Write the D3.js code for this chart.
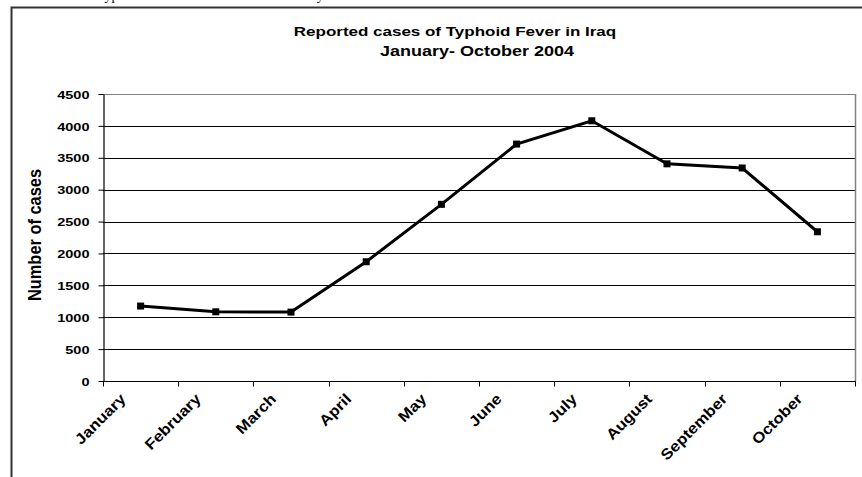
<!DOCTYPE html>
<html>
<head>
<meta charset="utf-8">
<script src="https://cdn.jsdelivr.net/npm/d3@7"></script>
<style>
  html, body { margin: 0; padding: 0; background: #fff; }
  svg { display: block; }
  text { font-family: "Liberation Sans", Arial, sans-serif; font-weight: bold; fill: #000; }
</style>
</head>
<body>
<svg id="chart" width="862" height="477"></svg>
<script>
// Monthly reported typhoid fever cases, Iraq 2004
const months = ["January", "February", "March", "April", "May", "June",
                "July", "August", "September", "October"];
const cases = [1175, 1085, 1080, 1870, 2770, 3715, 4080, 3405, 3340, 2340];
const yTicks = [0, 500, 1000, 1500, 2000, 2500, 3000, 3500, 4000, 4500];
const titleLines = ["Reported cases of Typhoid Fever in Iraq", "January- October 2004"];
const yTitle = "Number of cases";

const W = 862, H = 477;
const plot = { left: 103, right: 855, top: 94, bottom: 381 };
const SX = 1.25; // horizontal stretch of the chart lettering

const svg = d3.select("#chart");

// page caption above the chart frame (only its lowest strokes show)
svg.append("text")
  .attr("x", 97).attr("y", 0)
  .style("font-family", "'Liberation Serif', 'Times New Roman', serif")
  .style("font-weight", "normal")
  .style("font-size", "14px")
  .text("Typhoid Fever Cases Recorded Monthly");

// chart frame
svg.append("path")
  .attr("d", `M11.5,${H} V7.5 H${W}`)
  .attr("fill", "none").attr("stroke", "#333").attr("stroke-width", 2);

const x = d3.scaleBand().domain(months).range([plot.left, plot.right]).padding(0);
const y = d3.scaleLinear().domain([0, 4500]).range([plot.bottom, plot.top]);

// horizontal gridlines
svg.append("g")
  .selectAll("line")
  .data(yTicks.filter(v => v > 0))
  .join("line")
  .attr("x1", plot.left).attr("x2", plot.right)
  .attr("y1", d => Math.round(y(d)) + 0.5).attr("y2", d => Math.round(y(d)) + 0.5)
  .attr("stroke", d => d === 4500 ? "#808080" : "#000")
  .attr("stroke-width", 1);

// right edge of the plot area
svg.append("line")
  .attr("x1", plot.right + 0.5).attr("x2", plot.right + 0.5)
  .attr("y1", y(4500)).attr("y2", plot.bottom)
  .attr("stroke", "#808080").attr("stroke-width", 1.5);

// y axis
const yAxis = svg.append("g")
  .attr("transform", `translate(${plot.left + 0.5},0)`)
  .call(d3.axisLeft(y).tickValues(yTicks).tickSize(5).tickSizeOuter(0).tickFormat(d3.format("d")));
yAxis.select(".domain").attr("stroke", "#000").attr("stroke-width", 1.2);
yAxis.selectAll(".tick line").attr("stroke", "#000");
yAxis.selectAll(".tick text").remove();
yAxis.selectAll(".tick").append("g")
  .attr("transform", "translate(-14,0) scale(" + SX + ",1)")
  .append("text")
  .attr("text-anchor", "end")
  .attr("dy", "0.36em")
  .style("font-size", "11.6px")
  .text(d => d);

// x axis with boundary ticks between the month categories
const xAxis = svg.append("g")
  .attr("transform", `translate(0,${plot.bottom + 0.5})`);
xAxis.append("line")
  .attr("x1", plot.left).attr("x2", plot.right + 1)
  .attr("stroke", "#000").attr("stroke-width", 1.2);
const bounds = months.map(m => x(m)).concat([x.range()[1]]);
xAxis.selectAll("line.tk")
  .data(bounds)
  .join("line")
  .attr("class", "tk")
  .attr("x1", d => Math.round(d) + 0.5).attr("x2", d => Math.round(d) + 0.5)
  .attr("y1", 0).attr("y2", 5)
  .attr("stroke", "#000");

// rotated month labels
svg.append("g")
  .selectAll("text")
  .data(months)
  .join("text")
  .attr("text-anchor", "end")
  .attr("transform", d => `translate(${x(d) + x.bandwidth() / 2 - 14},400) rotate(-45) scale(1.12,1)`)
  .style("font-size", "15px")
  .text(d => d);

// y axis title
svg.append("g")
  .attr("transform", "translate(41,235) scale(1.12,1)")
  .append("text")
  .attr("text-anchor", "middle")
  .attr("transform", "rotate(-90)")
  .style("font-size", "16.4px")
  .text(yTitle);

// chart title
const titleX = [455, 477];
const titleSize = [13.6, 14.4];
titleLines.forEach((t, i) => {
  svg.append("g")
    .attr("transform", `translate(${titleX[i]},${36 + i * 20}) scale(${SX},1)`)
    .append("text")
    .attr("text-anchor", "middle")
    .style("font-size", titleSize[i] + "px")
    .text(t);
});

// series line
const cx = d => x(d) + x.bandwidth() / 2;
const line = d3.line()
  .x((d, i) => cx(months[i]))
  .y(d => y(d));
svg.append("path")
  .datum(cases)
  .attr("d", line)
  .attr("fill", "none")
  .attr("stroke", "#000")
  .attr("stroke-width", 3)
  .attr("stroke-linejoin", "miter");

// square markers
svg.append("g")
  .selectAll("rect")
  .data(cases)
  .join("rect")
  .attr("x", (d, i) => cx(months[i]) - 3.5)
  .attr("y", d => y(d) - 3.5)
  .attr("width", 7).attr("height", 7)
  .attr("fill", "#000");
</script>
</body>
</html>
